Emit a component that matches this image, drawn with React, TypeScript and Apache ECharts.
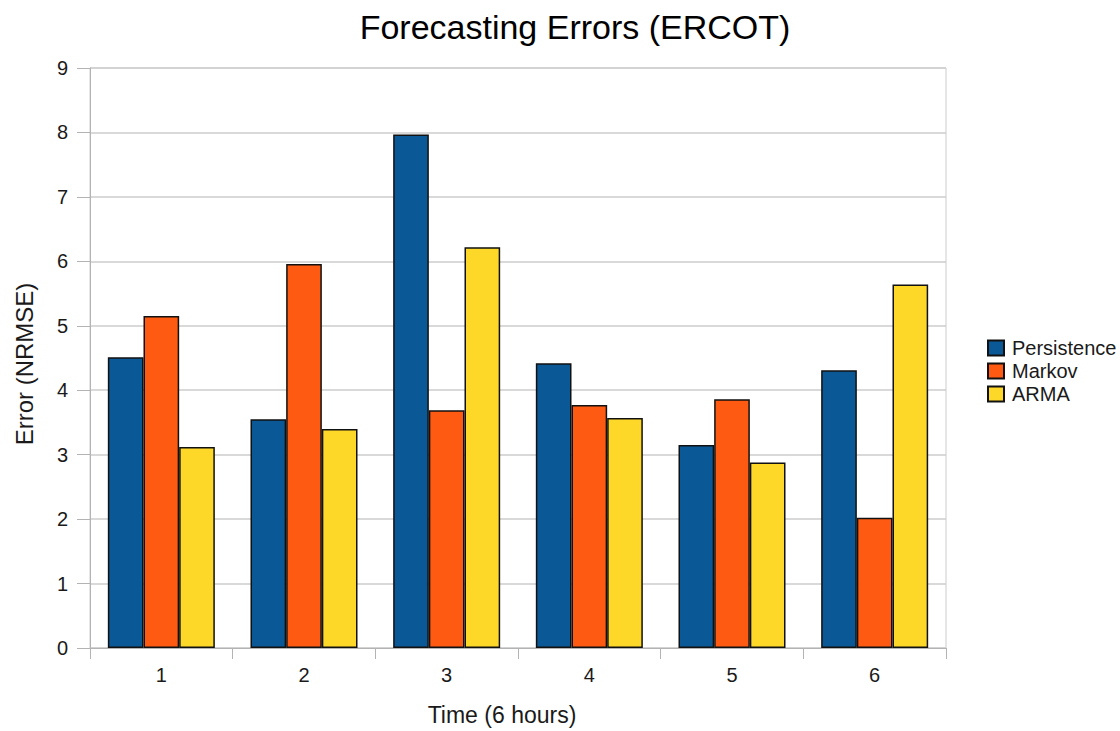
import React, { useEffect, useRef } from "react";
import * as echarts from "echarts";

const categories = ["1", "2", "3", "4", "5", "6"];
const persistence = [4.51, 3.55, 7.97, 4.42, 3.15, 4.31];
const markov = [5.15, 5.96, 3.69, 3.77, 3.86, 2.02];
const arma = [3.12, 3.4, 6.22, 3.57, 2.88, 5.64];
const seriesNames = ["Persistence", "Markov", "ARMA"];
const colors = ["#0b5896", "#fe5a12", "#fed829"];

const FONT = "Liberation Sans";
const TEXT = "#1a1a1a";

export default function App() {
  const ref = useRef<HTMLDivElement>(null);
  useEffect(() => {
    if (!ref.current) return;
    const chart = echarts.init(ref.current, undefined, { renderer: "svg" });
    const datas = [persistence, markov, arma];
    chart.setOption({
      animation: false,
      backgroundColor: "#ffffff",
      title: {
        text: "Forecasting Errors (ERCOT)",
        left: 570,
        textAlign: "center",
        top: 5,
        textStyle: { fontFamily: FONT, fontSize: 34, fontWeight: "normal", color: "#000" },
      },
      legend: {
        orient: "vertical",
        left: 982,
        top: 333,
        itemWidth: 16,
        itemHeight: 15,
        itemGap: 3,
        icon: "rect",
        data: seriesNames,
        textStyle: { fontFamily: FONT, fontSize: 20, color: TEXT, padding: [0, 0, 0, 3] },
      },
      grid: { left: 90, right: 174, top: 68, bottom: 82, show: true, borderColor: "#cccccc", borderWidth: 1 },
      xAxis: {
        type: "category",
        data: categories,
        name: "Time (6 hours)",
        nameLocation: "middle",
        nameGap: 55,
        nameTextStyle: { fontFamily: FONT, fontSize: 23, color: TEXT, padding: [0, 32, 0, 0] },
        axisLine: { lineStyle: { color: "#b3b3b3", width: 1 } },
        axisTick: { show: true, length: 11, lineStyle: { color: "#b3b3b3" } },
        axisLabel: { fontFamily: FONT, fontSize: 20, color: TEXT, margin: 17 },
      },
      yAxis: {
        type: "value",
        min: 0,
        max: 9,
        interval: 1,
        name: "Error (NRMSE)",
        nameLocation: "middle",
        nameGap: 54,
        nameTextStyle: { fontFamily: FONT, fontSize: 24, color: TEXT, padding: [0, 12, 0, 0] },
        axisLine: { show: true, lineStyle: { color: "#b3b3b3", width: 1 } },
        axisTick: { show: true, length: 13, lineStyle: { color: "#b3b3b3" } },
        axisLabel: { fontFamily: FONT, fontSize: 20, color: TEXT, margin: 22 },
        splitLine: { lineStyle: { color: "#cccccc", width: 1.5 } },
      },
      series: seriesNames.map((name, i) => ({
        name,
        type: "bar",
        data: datas[i],
        barGap: "0%",
        barCategoryGap: "25%",
        itemStyle: { color: colors[i], borderColor: "#111", borderWidth: 1.5 },
      })),
    });
    return () => chart.dispose();
  }, []);
  return (
    <div
      ref={ref}
      style={{ position: "fixed", left: 0, top: 0, width: 1120, height: 731 }}
    />
  );
}
